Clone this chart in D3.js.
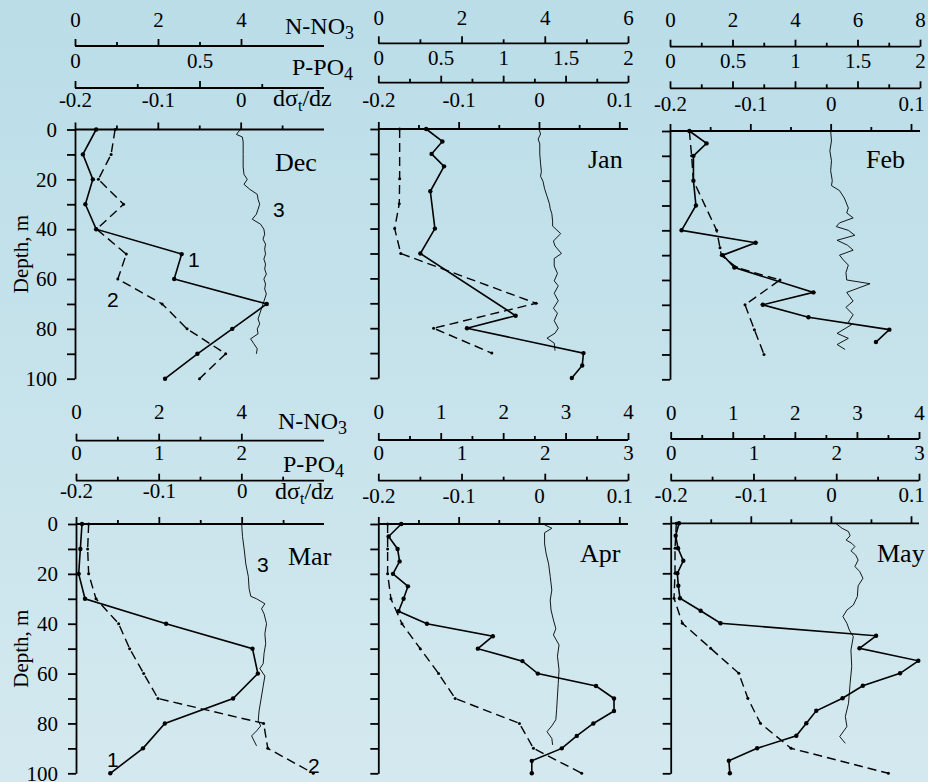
<!DOCTYPE html>
<html>
<head>
<meta charset="utf-8">
<script src="https://cdn.jsdelivr.net/npm/d3@7"></script>
<style>
  body { margin: 0; }
  svg { display: block; }
</style>
</head>
<body>
<svg id="chart" width="928" height="782"></svg>
<script>
// ---- Data: depth (m) paired with measured value ----
const months = ["Dec", "Jan", "Feb", "Mar", "Apr", "May"];

// Curve 1: nitrate N-NO3
const no3Dec = [[0,0.51],[10,0.19],[20,0.43],[30,0.25],[40,0.51],[50,2.57],[60,2.39],[70,4.62],[80,3.79],[90,2.95],[100,2.17]];
const no3Jan = [[0,1.15],[5,1.54],[10,1.28],[15,1.58],[25,1.25],[40,1.36],[50,1.01],[75,3.30],[80,2.13],[90,4.93],[95,4.90],[100,4.65]];
const no3Feb = [[0,0.62],[5,1.17],[10,0.75],[20,0.75],[30,0.83],[40,0.37],[45,2.74],[50,1.69],[55,2.06],[65,4.59],[70,2.97],[75,4.43],[80,7.02],[85,6.59]];
const no3Mar = [[0,0.145],[10,0.105],[20,0.065],[30,0.218],[40,2.18],[50,4.27],[60,4.40],[70,3.80],[80,2.15],[90,1.62],[100,0.83]];
const no3Apr = [[0,0.368],[5,0.165],[10,0.309],[15,0.341],[20,0.235],[25,0.475],[30,0.405],[35,0.325],[40,0.779],[45,1.835],[50,1.595],[55,2.309],[60,2.555],[65,3.488],[70,3.776],[75,3.776],[80,3.445],[85,3.179],[90,2.939],[95,2.459],[100,2.459]];
const no3May = [[0,0.134],[5,0.08],[10,0.118],[15,0.203],[20,0.107],[25,0.123],[30,0.15],[35,0.482],[40,0.803],[45,3.309],[50,3.041],[55,3.989],[60,3.695],[65,3.095],[70,2.768],[75,2.345],[80,2.185],[85,2.024],[90,1.392],[95,0.937],[100,0.953]];

// Curve 2: phosphate P-PO4
const po4Dec = [[0,0.161],[10,0.145],[20,0.094],[30,0.195],[40,0.087],[50,0.206],[60,0.172],[70,0.35],[80,0.45],[90,0.605],[100,0.50]];
const po4Jan = [[0,0.171],[20,0.171],[30,0.168],[40,0.131],[50,0.18],[70,1.264],[80,0.443],[90,0.909]];
const po4Feb = [[0,0.155],[10,0.173],[20,0.187],[40,0.373],[47,0.40],[50,0.41],[55,0.533],[60,0.88],[70,0.6],[80,0.675],[90,0.752]];
const po4Mar = [[0,0.153],[10,0.141],[20,0.153],[30,0.242],[40,0.516],[50,0.649],[60,0.819],[70,0.992],[80,2.27],[90,2.32],[100,2.87]];
const po4Apr = [[0,0.112],[10,0.112],[20,0.112],[30,0.152],[40,0.284],[50,0.504],[60,0.724],[70,0.924],[80,1.696],[90,1.864],[100,2.444]];
const po4May = [[0,0.068],[10,0.052],[20,0.052],[30,0.04],[40,0.141],[50,0.482],[60,0.823],[70,0.932],[80,1.084],[90,1.454],[100,2.63]];

// Curve 3: vertical density gradient dσt/dz
const sigDec = [[0,0.000],[1,-0.003],[2,-0.005],[3,0.002],[5,0.003],[10,0.003],[15,0.003],[18,0.004],[20,0.008],[22,0.004],[24,0.011],[26,0.020],[28,0.021],[30,0.023],[32,0.021],[34,0.019],[36,0.014],[38,0.024],[40,0.028],[42,0.029],[44,0.027],[46,0.030],[48,0.029],[50,0.030],[52,0.028],[54,0.030],[56,0.029],[58,0.031],[60,0.028],[62,0.030],[64,0.029],[66,0.031],[68,0.029],[70,0.027],[72,0.025],[74,0.023],[76,0.021],[78,0.023],[80,0.020],[82,0.021],[84,0.012],[86,0.016],[88,0.020],[90,0.019]];
const sigJan = [[0,0.000],[2,0.002],[4,-0.001],[6,0.001],[10,0.001],[14,0.002],[17,0.003],[19,0.002],[21,0.005],[24,0.007],[27,0.010],[30,0.013],[32,0.014],[34,0.016],[37,0.017],[39,0.017],[42,0.027],[45,0.018],[47,0.020],[50,0.028],[52,0.019],[55,0.019],[58,0.023],[61,0.019],[63,0.024],[66,0.019],[69,0.024],[72,0.018],[74,0.023],[77,0.019],[80,0.024],[82,0.020],[84,0.010],[86,0.019],[89,0.020]];
const sigFeb = [[0,0.000],[4,0.001],[8,-0.001],[12,0.001],[16,0.000],[20,0.002],[22,0.001],[24,0.011],[27,0.017],[31,0.022],[33,0.020],[35,0.028],[37,0.011],[38.5,0.007],[40,0.022],[42,0.030],[44,0.008],[46,0.021],[48,0.028],[50,0.011],[52,0.016],[54,0.022],[57,0.019],[60,0.020],[61.5,0.049],[65,0.020],[68.5,0.028],[71,0.019],[74,0.028],[77,0.022],[78,0.026],[81.5,0.008],[83.5,0.022],[86,0.008],[88,0.018]];
const sigMar = [[0,0.000],[5,0.001],[10,0.003],[16,0.005],[21,0.008],[26,0.009],[29,0.011],[30,0.018],[32,0.028],[34,0.024],[36,0.027],[40,0.030],[44,0.028],[48,0.029],[52,0.027],[56,0.026],[58,0.022],[61,0.028],[65,0.026],[69,0.024],[75,0.021],[79,0.020],[81,0.023],[83,0.018],[85,0.012],[89,0.018]];
const sigApr = [[0,0.005],[1.7,0.016],[3.5,0.007],[8,0.007],[12,0.009],[16,0.012],[21,0.014],[26.5,0.016],[30.5,0.014],[34.5,0.015],[38.5,0.018],[42,0.021],[44.5,0.018],[48.5,0.025],[53,0.023],[58.5,0.025],[64,0.024],[69,0.023],[74.5,0.022],[78.5,0.021],[81,0.016],[83.3,0.010],[86,0.016],[88.6,0.017]];
const sigMay = [[0,0.006],[2,0.014],[3.3,0.022],[5,0.024],[6.7,0.019],[8,0.026],[9.3,0.030],[11,0.025],[12.7,0.031],[14.7,0.034],[17.3,0.030],[19.3,0.036],[22,0.040],[25,0.034],[29.3,0.033],[32.7,0.028],[34.7,0.020],[37.3,0.015],[40,0.020],[42.7,0.023],[45.3,0.028],[50.7,0.025],[57.3,0.026],[64,0.024],[72,0.022],[77.3,0.018],[81.3,0.020],[85.3,0.011],[88,0.018]];

const no3Series = [no3Dec, no3Jan, no3Feb, no3Mar, no3Apr, no3May];
const po4Series = [po4Dec, po4Jan, po4Feb, po4Mar, po4Apr, po4May];
const sigSeries = [sigDec, sigJan, sigFeb, sigMar, sigApr, sigMay];

// ---- Axis domains and ticks ----
const no3Max = [6, 6, 8, 6, 4, 4];
const po4Max = [1, 2, 2, 3, 3, 3];
const no3Ticks = [[0,1,2,3,4], [0,1,2,3,4,5,6], [0,1,2,3,4,5,6,7,8], [0,1,2,3,4], [0,0.5,1,1.5,2,2.5,3,3.5,4], [0,0.5,1,1.5,2,2.5,3,3.5,4]];
const no3Labels = [[0,2,4], [0,2,4,6], [0,2,4,6,8], [0,2,4], [0,1,2,3,4], [0,1,2,3,4]];
const po4Ticks = [[0,0.25,0.5,0.75], [0,0.25,0.5,0.75,1,1.25,1.5,1.75,2], [0,0.25,0.5,0.75,1,1.25,1.5,1.75,2], [0,0.5,1,1.5,2,2.5], [0,0.5,1,1.5,2,2.5,3], [0,0.5,1,1.5,2,2.5,3]];
const po4Labels = [[0,0.5], [0,0.5,1,1.5,2], [0,0.5,1,1.5,2], [0,1,2], [0,1,2,3], [0,1,2,3]];
const sigDomain = [-0.2, 0.1];
const sigTicksLeft = [-0.2,-0.15,-0.1,-0.05,0,0.05];
const sigTicksRight = [-0.2,-0.15,-0.1,-0.05,0,0.05,0.1];
const sigLabelsLeft = [-0.2,-0.1,0];
const sigLabelsRight = [-0.2,-0.1,0,0.1];
const depthDomain = [0, 100];
const depthTicks = [0,10,20,30,40,50,60,70,80,90,100];
const depthLabels = [0,20,40,60,80,100];

// ---- Layout of the six panels (pixels) ----
const layout = [
  {L:75,    Rn:324, Rs:323.5, top:129.5, bot:378.7, nY:46,    pY:88,    nLab:27,  pLab:68,  sLab:107, left:true,  month:[275,171]},
  {L:378.3, Rn:628, Rs:619.3, top:129,   bot:378,   nY:43.3,  pY:82.7,  nLab:25,  pLab:65,  sLab:107, left:false, month:[588,168]},
  {L:670,   Rn:920, Rs:911,   top:131,   bot:379.3, nY:46.7,  pY:88.3,  nLab:27,  pLab:68,  sLab:111, left:false, month:[866,168]},
  {L:76,    Rn:324, Rs:324.5, top:524,   bot:773.3, nY:440.7, pY:480.7, nLab:419, pLab:460, sLab:498, left:true,  month:[288,565]},
  {L:378.3, Rn:628, Rs:619.3, top:524,   bot:773.3, nY:440,   pY:480.7, nLab:419, pLab:460, sLab:503, left:false, month:[580,562]},
  {L:670.7, Rn:919, Rs:911,   top:523.3, bot:773.3, nY:439,   pY:480.7, nLab:420, pLab:460, sLab:502, left:false, month:[877,562]}
];
// Axis titles and curve numbers on the left-hand panels
const titlePos = [
  {n:[285,34], p:[292,75], s:[273,106], c1:[188,267], c2:[107,307], c3:[273,217]},
  null, null,
  {n:[278,429], p:[283,472], s:[275,499], c1:[107,767], c2:[308,773], c3:[257,572]},
  null, null
];

const SERIF = "'Liberation Serif', 'Times New Roman', serif";
const SANS = "'Liberation Sans', Arial, sans-serif";
const AXW = 1.8;

const svg = d3.select("#chart");
const defs = svg.append("defs");
const grad = defs.append("linearGradient").attr("id", "bg")
  .attr("x1", 0).attr("y1", 0).attr("x2", 0).attr("y2", 1);
grad.append("stop").attr("offset", "0%").attr("stop-color", "#badde8");
grad.append("stop").attr("offset", "100%").attr("stop-color", "#d4e9ef");
svg.append("rect").attr("width", 928).attr("height", 782).attr("fill", "url(#bg)");

const fmt = d => String(d);

function styleAxis(ax) {
  ax.selectAll(".tick line").attr("stroke", "#000").attr("stroke-width", AXW);
  ax.selectAll(".tick text")
    .attr("font-family", SERIF).attr("font-size", 21).attr("fill", "#000");
}

// Horizontal top axis with labelled major and short minor ticks
function drawTopAxis(g, scale, yPos, ticks, labels, labBase, withLine) {
  const ax = g.append("g").attr("transform", `translate(0,${yPos})`);
  ax.call(d3.axisTop(scale).tickValues(ticks).tickSizeOuter(0)
    .tickFormat(d => labels.includes(d) ? fmt(d) : ""));
  ax.select(".domain").remove();
  if (withLine) {
    const r = scale.range();
    ax.append("line").attr("x1", r[0]).attr("x2", r[1])
      .attr("stroke", "#000").attr("stroke-width", AXW);
  }
  ax.selectAll(".tick line").attr("y2", d => labels.includes(d) ? -7 : -4);
  styleAxis(ax);
  ax.selectAll(".tick text").attr("y", labBase - yPos).attr("dy", 0);
  return ax;
}

layout.forEach((lo, i) => {
  const g = svg.append("g");
  const y = d3.scaleLinear().domain(depthDomain).range([lo.top, lo.bot]);
  const xN = d3.scaleLinear().domain([0, no3Max[i]]).range([lo.L, lo.Rn]);
  const xP = d3.scaleLinear().domain([0, po4Max[i]]).range([lo.L, lo.Rn]);
  const xS = d3.scaleLinear().domain(sigDomain).range([lo.L, lo.Rs]);

  // nutrient axes above the panel
  drawTopAxis(g, xN, lo.nY, no3Ticks[i], no3Labels[i], lo.nLab, true);
  drawTopAxis(g, xP, lo.pY, po4Ticks[i], po4Labels[i], lo.pLab, true);

  // density-gradient axis along the top of the profile frame
  g.append("line").attr("x1", lo.L).attr("x2", lo.Rn)
    .attr("y1", lo.top).attr("y2", lo.top)
    .attr("stroke", "#000").attr("stroke-width", AXW);
  drawTopAxis(g, xS, lo.top, lo.left ? sigTicksLeft : sigTicksRight,
    lo.left ? sigLabelsLeft : sigLabelsRight, lo.sLab, false);

  // depth axis
  const ay = g.append("g").attr("transform", `translate(${lo.L},0)`);
  ay.call(d3.axisLeft(y).tickValues(depthTicks).tickSize(8).tickPadding(10).tickSizeOuter(0)
    .tickFormat(d => lo.left && depthLabels.includes(d) ? fmt(d) : ""));
  ay.select(".domain").attr("stroke", "#000").attr("stroke-width", AXW);
  styleAxis(ay);

  // curve 3: density gradient
  g.append("path").datum(sigSeries[i])
    .attr("fill", "none").attr("stroke", "#000").attr("stroke-width", 0.9)
    .attr("stroke-linejoin", "round")
    .attr("d", d3.line().x(d => xS(d[1])).y(d => y(d[0])));

  // curve 2: phosphate, dashed
  g.append("path").datum(po4Series[i])
    .attr("fill", "none").attr("stroke", "#000").attr("stroke-width", 1.4)
    .attr("stroke-dasharray", "9,5")
    .attr("d", d3.line().x(d => xP(d[1])).y(d => y(d[0])));
  g.selectAll(".p-dot").data(po4Series[i]).join("circle")
    .attr("cx", d => xP(d[1])).attr("cy", d => y(d[0])).attr("r", 1.5).attr("fill", "#000");

  // curve 1: nitrate, solid with dots
  g.append("path").datum(no3Series[i])
    .attr("fill", "none").attr("stroke", "#000").attr("stroke-width", 1.6)
    .attr("d", d3.line().x(d => xN(d[1])).y(d => y(d[0])));
  g.selectAll(".n-dot").data(no3Series[i]).join("circle")
    .attr("cx", d => xN(d[1])).attr("cy", d => y(d[0])).attr("r", 2.2).attr("fill", "#000");

  // month name
  g.append("text").attr("x", lo.month[0]).attr("y", lo.month[1])
    .attr("font-family", SERIF).attr("font-size", 26).text(months[i]);

  const tp = titlePos[i];
  if (tp) {
    // axis titles
    const tn = g.append("text").attr("x", tp.n[0]).attr("y", tp.n[1])
      .attr("font-family", SERIF).attr("font-size", 24);
    tn.append("tspan").text("N-NO");
    tn.append("tspan").attr("dy", 5).attr("font-size", 18).text("3");
    const tpp = g.append("text").attr("x", tp.p[0]).attr("y", tp.p[1])
      .attr("font-family", SERIF).attr("font-size", 24);
    tpp.append("tspan").text("P-PO");
    tpp.append("tspan").attr("dy", 5).attr("font-size", 18).text("4");
    const ts = g.append("text").attr("x", tp.s[0]).attr("y", tp.s[1])
      .attr("font-family", SERIF).attr("font-size", 24);
    ts.append("tspan").text("dσ");
    ts.append("tspan").attr("dy", 5).attr("font-size", 16).text("t");
    ts.append("tspan").attr("dy", -5).text("/dz");

    // depth title
    g.append("text")
      .attr("transform", `translate(28,${(lo.top + lo.bot) / 2}) rotate(-90)`)
      .attr("text-anchor", "middle")
      .attr("font-family", SERIF).attr("font-size", 21).text("Depth, m");

    // curve numbers
    [["1", tp.c1], ["2", tp.c2], ["3", tp.c3]].forEach(([t, p]) => {
      g.append("text").attr("x", p[0]).attr("y", p[1])
        .attr("font-family", SANS).attr("font-size", 21).text(t);
    });
  }
});
</script>
</body>
</html>
